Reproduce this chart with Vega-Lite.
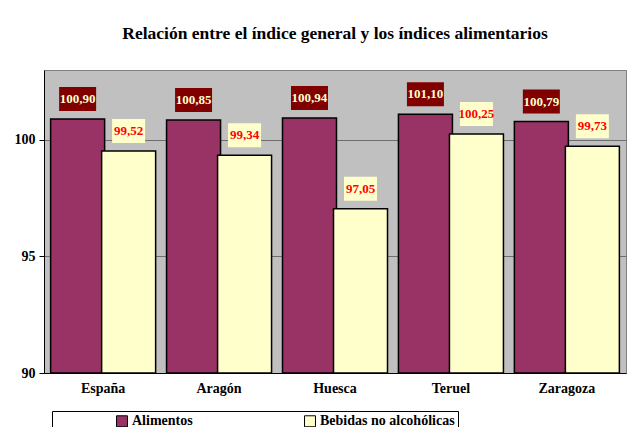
{
  "$schema": "https://vega.github.io/schema/vega-lite/v6.json",
  "autosize": {"type": "none"},
  "width": 582,
  "height": 303,
  "padding": {"left": 44, "top": 70, "right": 17, "bottom": 54},
  "background": "white",
  "title": {
    "text": "Relación entre el índice general y los índices alimentarios",
    "font": "Liberation Serif",
    "fontSize": 17.5,
    "fontWeight": "bold",
    "color": "black",
    "anchor": "middle",
    "offset": 28
  },
  "data": {
    "values": [
      {"region": "España", "serie": "Alimentos", "valor": 100.90, "label": "100,90"},
      {"region": "España", "serie": "Bebidas no alcohólicas", "valor": 99.52, "label": "99,52"},
      {"region": "Aragón", "serie": "Alimentos", "valor": 100.85, "label": "100,85"},
      {"region": "Aragón", "serie": "Bebidas no alcohólicas", "valor": 99.34, "label": "99,34"},
      {"region": "Huesca", "serie": "Alimentos", "valor": 100.94, "label": "100,94"},
      {"region": "Huesca", "serie": "Bebidas no alcohólicas", "valor": 97.05, "label": "97,05"},
      {"region": "Teruel", "serie": "Alimentos", "valor": 101.10, "label": "101,10"},
      {"region": "Teruel", "serie": "Bebidas no alcohólicas", "valor": 100.25, "label": "100,25"},
      {"region": "Zaragoza", "serie": "Alimentos", "valor": 100.79, "label": "100,79"},
      {"region": "Zaragoza", "serie": "Bebidas no alcohólicas", "valor": 99.73, "label": "99,73"}
    ]
  },
  "encoding": {
    "x": {
      "field": "region",
      "type": "nominal",
      "sort": ["España", "Aragón", "Huesca", "Teruel", "Zaragoza"],
      "scale": {"paddingInner": 0.12, "paddingOuter": 0.07},
      "axis": {
        "title": null,
        "labelAngle": 0,
        "labelFont": "Liberation Serif",
        "labelFontSize": 14,
        "labelFontWeight": "bold",
        "labelColor": "black",
        "ticks": false,
        "labelPadding": 8,
        "domainColor": "black",
        "domainWidth": 1
      }
    },
    "xOffset": {
      "field": "serie",
      "type": "nominal",
      "sort": ["Alimentos", "Bebidas no alcohólicas"],
      "scale": {"paddingInner": 0, "paddingOuter": 0}
    },
    "y": {
      "field": "valor",
      "type": "quantitative",
      "scale": {"domain": [90, 103], "zero": false, "nice": false},
      "axis": {
        "title": null,
        "values": [90, 95, 100],
        "labelFont": "Liberation Serif",
        "labelFontSize": 14,
        "labelFontWeight": "bold",
        "labelColor": "black",
        "tickSize": 5,
        "tickColor": "black",
        "labelPadding": 4,
        "domainColor": "black",
        "gridColor": "#6e6e6e",
        "gridWidth": 1.2
      }
    }
  },
  "layer": [
    {
      "mark": {"type": "bar", "stroke": "black", "strokeWidth": 1.5, "width": 54, "clip": true},
      "encoding": {
        "y2": {"datum": 90},
        "color": {
          "field": "serie",
          "type": "nominal",
          "sort": ["Alimentos", "Bebidas no alcohólicas"],
          "scale": {"domain": ["Alimentos", "Bebidas no alcohólicas"], "range": ["#993366", "#FFFFCC"]},
          "legend": {
            "title": null,
            "orient": "none",
            "legendX": 8,
            "legendY": 341,
            "direction": "horizontal",
            "columns": 2,
            "columnPadding": 50,
            "padding": 3,
            "symbolOffset": 60,
            "strokeColor": "black",
            "fillColor": "white",
            "symbolType": "square",
            "symbolSize": 120,
            "symbolStrokeColor": "black",
            "symbolStrokeWidth": 1,
            "labelFont": "Liberation Serif",
            "labelFontSize": 14,
            "labelFontWeight": "bold",
            "labelColor": "black",
            "labelOffset": 3,
            "labelLimit": 300
          }
        }
      }
    },
    {
      "transform": [{"filter": "datum.serie === 'Alimentos'"}],
      "mark": {"type": "tick", "orient": "horizontal", "size": 37, "thickness": 24, "color": "#800000", "opacity": 1, "xOffset": 17, "yOffset": -20}
    },
    {
      "transform": [{"filter": "datum.serie === 'Alimentos'"}],
      "mark": {"type": "text", "font": "Liberation Serif", "fontSize": 13, "fontWeight": "bold", "color": "#FFFFCC", "xOffset": 17, "yOffset": -20, "baseline": "middle"},
      "encoding": {"text": {"field": "label"}}
    },
    {
      "transform": [{"filter": "datum.serie !== 'Alimentos'"}],
      "mark": {"type": "tick", "orient": "horizontal", "size": 33, "thickness": 24, "color": "#FFFFCC", "opacity": 1, "xOffset": 7, "yOffset": -20}
    },
    {
      "transform": [{"filter": "datum.serie !== 'Alimentos'"}],
      "mark": {"type": "text", "font": "Liberation Serif", "fontSize": 13, "fontWeight": "bold", "color": "#FF0000", "xOffset": 7, "yOffset": -20, "baseline": "middle"},
      "encoding": {"text": {"field": "label"}}
    }
  ],
  "config": {
    "view": {"fill": "#C0C0C0", "stroke": "#808080", "strokeWidth": 1}
  }
}
